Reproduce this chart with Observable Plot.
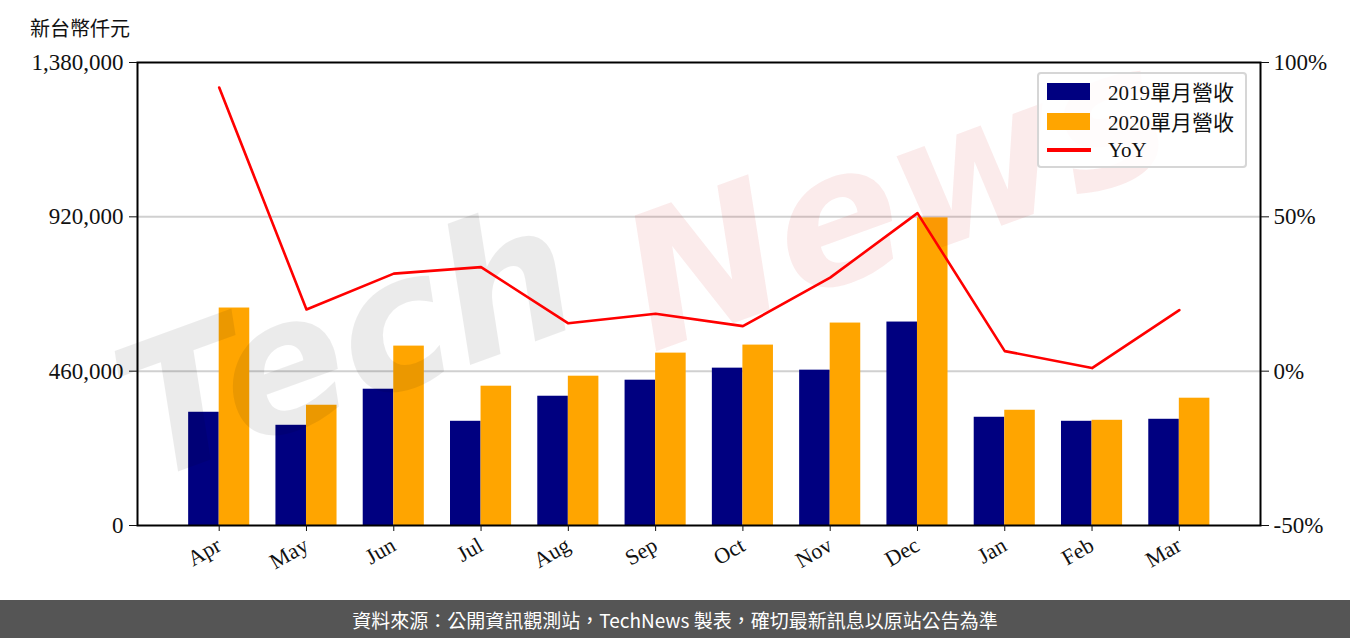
<!DOCTYPE html>
<html>
<head>
<meta charset="utf-8">
<script src="https://cdn.jsdelivr.net/npm/d3@7"></script>
<script src="https://cdn.jsdelivr.net/npm/@observablehq/plot@0.6"></script>
<style>
  body { margin: 0; background: white; }
  #wrap { position: relative; width: 1350px; height: 638px; overflow: hidden; background: white; }
  #ylabel { position: absolute; left: 30px; top: 13px; font: 20px "Noto Sans CJK TC", sans-serif; color: #111; }
  #legend { position: absolute; left: 1037px; top: 72px; width: 206px; height: 92px; border: 2px solid #d6d6d6; border-radius: 4px; background: rgba(255,255,255,0.85); font: 21px "Liberation Serif", "Noto Sans CJK TC", serif; color: #111; }
  .row { position: absolute; left: 8px; height: 26px; display: flex; align-items: center; }
  .sw { width: 43px; height: 17px; margin-right: 18px; }
  .ln { width: 44px; height: 4px; margin-right: 17px; background: red; }
  #footer { position: absolute; left: 0; top: 600px; width: 1350px; height: 38px; background: #555555; color: white; font: 19px "Noto Sans CJK TC", sans-serif; display: flex; align-items: center; justify-content: center; }
</style>
</head>
<body>
<div id="wrap">
  <div id="chart"></div>
  <div id="ylabel">新台幣仟元</div>
  <div id="legend">
    <div class="row" style="top:4px"><div class="sw" style="background:#000080"></div>2019單月營收</div>
    <div class="row" style="top:34px"><div class="sw" style="background:#FFA500"></div>2020單月營收</div>
    <div class="row" style="top:63px"><div class="ln"></div>YoY</div>
  </div>
  <div id="footer">資料來源：公開資訊觀測站，TechNews 製表，確切最新訊息以原站公告為準</div>
</div>
<script>
const months = ["Apr","May","Jun","Jul","Aug","Sep","Oct","Nov","Dec","Jan","Feb","Mar"];
const rev2019 = [337500, 298700, 406200, 310600, 385300, 433100, 469000, 463000, 606400, 322600, 310600, 316600];
const rev2020 = [648200, 358400, 534700, 415200, 445000, 513800, 537700, 603400, 917000, 343500, 313600, 379400];
const yoy = [91.9, 20.0, 31.6, 33.7, 15.5, 18.6, 14.6, 30.3, 51.2, 6.5, 1.0, 19.8];
const leftTicks = [0, 460000, 920000, 1380000];
const leftLabels = ["0", "460,000", "920,000", "1,380,000"];
const rightLabels = ["-50%", "0%", "50%", "100%"];
const watermark = ["Tech", "News"];

const yMax = 1380000;
const yoyToY = p => (p + 50) / 150 * yMax;

const data = months.map((m, i) => ({i, m, a: rev2019[i], b: rev2020[i], yoy: yoy[i]}));
const bw = 0.35;

const chart = Plot.plot({
  width: 1350,
  height: 600,
  marginLeft: 137,
  marginRight: 90,
  marginTop: 62,
  marginBottom: 75,
  x: {type: "linear", domain: [-0.936, 11.93], label: null},
  y: {domain: [0, yMax], label: null},
  style: {fontFamily: "Liberation Serif, serif", fontSize: "23px", background: "white", color: "#111"},
  marks: [
    Plot.ruleY([460000, 920000], {stroke: "#d0d0d0", strokeWidth: 2}),
    Plot.rect(data, {x1: d => d.i - bw, x2: d => d.i, y1: 0, y2: "a", fill: "#000080"}),
    Plot.rect(data, {x1: d => d.i, x2: d => d.i + bw, y1: 0, y2: "b", fill: "#FFA500"}),
    Plot.text([watermark[0]], {text: d => d, frameAnchor: "top-left", dx: 10, dy: 420, rotate: -20, textAnchor: "start", lineAnchor: "bottom",
      fontSize: 185, fontStyle: "italic", fontWeight: "bold", fontFamily: "DejaVu Sans, sans-serif",
      fill: "#000", fillOpacity: 0.08}),
    Plot.text([watermark[1]], {text: d => d, frameAnchor: "top-left", dx: 515, dy: 290, rotate: -20, textAnchor: "start", lineAnchor: "bottom",
      fontSize: 185, fontStyle: "italic", fontWeight: "bold", fontFamily: "DejaVu Sans, sans-serif",
      fill: "#d02020", fillOpacity: 0.09}),
    Plot.line(data, {x: "i", y: d => yoyToY(d.yoy), stroke: "#ff0000", strokeWidth: 2.6}),
    Plot.frame({stroke: "black", strokeWidth: 2}),
    Plot.axisY({ticks: leftTicks, tickFormat: (d, k) => leftLabels[k], tickSize: 8, tickPadding: 6, tickStrokeWidth: 2, label: null}),
    Plot.axisY({anchor: "right", ticks: leftTicks, tickFormat: (d, k) => rightLabels[k], tickSize: 8, tickPadding: 5, tickStrokeWidth: 2, label: null}),
    Plot.axisX({ticks: d3.range(12), tickFormat: i => months[i], tickRotate: -30, tickSize: 6, tickPadding: 12, tickStrokeWidth: 2, fontSize: 22, label: null})
  ]
});
document.getElementById("chart").appendChild(chart);
</script>
</body>
</html>
